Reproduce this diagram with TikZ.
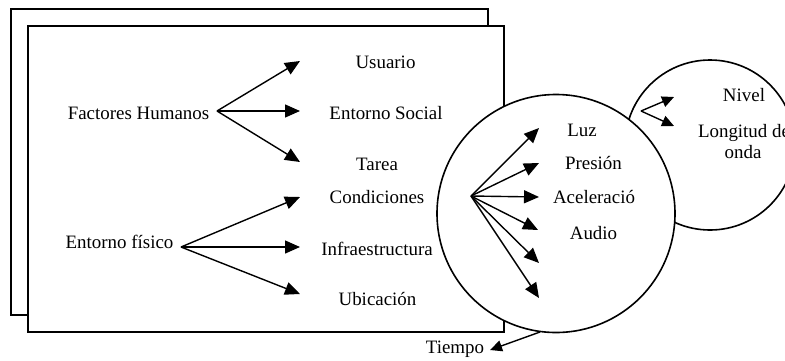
\documentclass[tikz,border=0pt]{standalone}
\usepackage{fontspec}
\setmainfont{Liberation Serif}
\usetikzlibrary{arrows.meta}
\begin{document}
\begin{tikzpicture}[x=1bp,y=-1bp,
  lbl/.style={font=\fontsize{19}{22}\selectfont, inner sep=0pt, anchor=base},
  arr/.style={line width=1.4bp, -{Triangle[length=15bp,width=13bp]}},
  sarr/.style={line width=1.4bp, -{Triangle[length=12bp,width=11bp]}},
  box/.style={draw, line width=2bp, fill=white},
  circ/.style={draw, line width=1.6bp, fill=white}]
\useasboundingbox (0,0) rectangle (785,360);
\path[box] (11,9) rectangle (488,315);
\path[box] (28,26) rectangle (504,332);
\path[circ] (710,145) circle[radius=85];
\path[circ] (556,213.5) circle[radius=119];

% left labels
\node[lbl] (fh) at (138.5,119) {Factores Humanos};
\node[lbl] (ef) at (119.5,248) {Entorno físico};
\node[lbl] (us) at (385.5,68) {Usuario};
\node[lbl] (es) at (386,119) {Entorno Social};
\node[lbl] (ta) at (377,170) {Tarea};
\node[lbl] (co) at (377,203) {Condiciones};
\node[lbl] (in) at (377,255) {Infraestructura};
\node[lbl] (ub) at (377.5,305) {Ubicación};

\coordinate (fhs) at (217,111);
\coordinate (fh1) at (300,61);
\coordinate (fh2) at (300,111);
\coordinate (fh3) at (300,162);
\draw[arr] (fhs) -- (fh1);
\draw[arr] (fhs) -- (fh2);
\draw[arr] (fhs) -- (fh3);

\coordinate (efs) at (181,247);
\coordinate (ef1) at (300,197);
\coordinate (ef2) at (300,247);
\coordinate (ef3) at (300,294);
\draw[arr] (efs) -- (ef1);
\draw[arr] (efs) -- (ef2);
\draw[arr] (efs) -- (ef3);

% big circle
\node[lbl] (luz) at (582,136) {Luz};
\node[lbl] (pre) at (593.5,169) {Presión};
\node[lbl] (ace) at (594,203) {Aceleració};
\node[lbl] (aud) at (593.5,239) {Audio};
\coordinate (cs) at (471,196);
\coordinate (c1) at (539,128);
\coordinate (c2) at (539,163);
\coordinate (c3) at (539,197);
\coordinate (c4) at (538,230);
\coordinate (c5) at (539,263);
\coordinate (c6) at (539,298);
\foreach \t in {c1,c2,c3,c4,c5,c6} \draw[arr] (cs) -- (\t);

% small circle
\node[lbl] (niv) at (744,101) {Nivel};
\node[lbl] (lon) at (744,137) {Longitud de};
\node[lbl] (ond) at (743,158) {onda};
\coordinate (ss) at (641,111);
\coordinate (s1) at (674,97);
\coordinate (s2) at (674,126);
\draw[sarr] (ss) -- (s1);
\draw[sarr] (ss) -- (s2);

% tiempo
\node[lbl] (tie) at (455,353) {Tiempo};
\coordinate (ts) at (540,332);
\coordinate (te) at (490,350);
\draw[sarr] (ts) -- (te);
\end{tikzpicture}
\end{document}
